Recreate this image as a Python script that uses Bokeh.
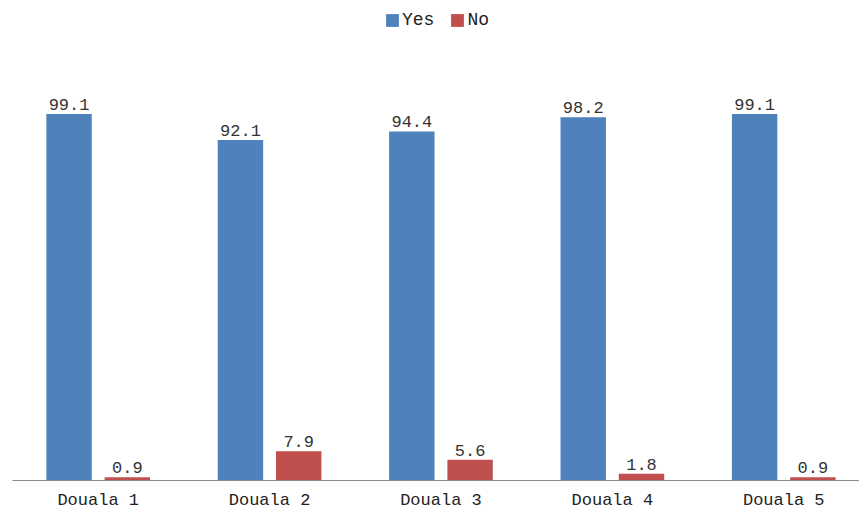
from bokeh.plotting import figure
from bokeh.models import ColumnDataSource, Range1d, Legend, LegendItem
from bokeh.core.properties import value
from bokeh.embed import file_html
from bokeh.resources import INLINE

categories = ["Douala 1", "Douala 2", "Douala 3", "Douala 4", "Douala 5"]
yes_values = [99.1, 92.1, 94.4, 98.2, 99.1]
no_values = [0.9, 7.9, 5.6, 1.8, 0.9]

BLUE = "#4F81BD"
RED = "#C0504D"
FONT = "Liberation Mono"

idx = list(range(len(categories)))
off = 0.17
bw = 0.265

yes_src = ColumnDataSource(dict(x=[i - off for i in idx], top=yes_values,
                                lab=[f"{v:.1f}" for v in yes_values]))
no_src = ColumnDataSource(dict(x=[i + off for i in idx], top=no_values,
                               lab=[f"{v:.1f}" for v in no_values]))

p = figure(width=859, height=512, output_backend="svg", toolbar_location=None,
           x_range=Range1d(-0.5, 4.442), y_range=Range1d(0, 129.8),
           min_border_left=12, min_border_right=0, min_border_top=0,
           min_border_bottom=32, outline_line_color=None)

r_yes = p.vbar(x="x", top="top", width=bw, bottom=0, source=yes_src,
               fill_color=BLUE, line_color=None)
r_no = p.vbar(x="x", top="top", width=bw, bottom=0, source=no_src,
              fill_color=RED, line_color=None)

for src in (yes_src, no_src):
    p.text(x="x", y="top", text="lab", source=src, text_align="center",
           text_baseline="bottom", y_offset=-4, text_font=value(FONT),
           text_font_size="17px", text_color="#333333")

p.xgrid.visible = False
p.ygrid.visible = False
p.yaxis.visible = False

p.xaxis.ticker = idx
p.xaxis.major_label_overrides = {i: c for i, c in enumerate(categories)}
p.xaxis.major_tick_line_color = None
p.xaxis.major_tick_out = 0
p.xaxis.major_tick_in = 0
p.xaxis.minor_tick_line_color = None
p.xaxis.minor_tick_out = 0
p.xaxis.axis_line_color = "#8c8c8c"
p.xaxis.axis_line_width = 1
p.xaxis.major_label_text_font = FONT
p.xaxis.major_label_text_font_size = "17px"
p.xaxis.major_label_text_color = "#222222"
p.xaxis.major_label_standoff = 10

legend = Legend(items=[LegendItem(label="Yes", renderers=[r_yes]),
                       LegendItem(label="No", renderers=[r_no])],
                orientation="horizontal", location=(372, 450),
                padding=0, margin=0, spacing=15, glyph_width=16, glyph_height=16,
                label_standoff=2, label_text_font=FONT, label_text_font_size="18px",
                label_text_color="#222222", background_fill_alpha=0,
                border_line_color=None)
p.add_layout(legend)

open("out.html", "w").write(file_html(p, INLINE))
